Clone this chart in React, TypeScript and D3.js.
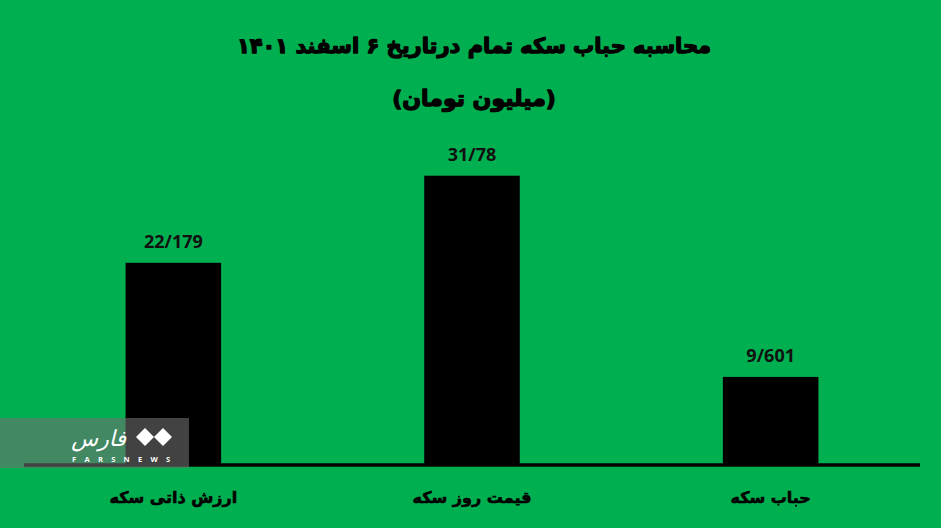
import React from "react";
import * as d3 from "d3";

const categories = ["ارزش ذاتی سکه", "قیمت روز سکه", "حباب سکه"];
const values = [22.179, 31.78, 9.601];
const valueLabels = ["22/179", "31/78", "9/601"];
const titleLines = ["محاسبه حباب سکه تمام درتاریخ ۶ اسفند ۱۴۰۱", "(میلیون تومان)"];

const W = 941;
const H = 528;
const GREEN = "#00B050";
const FA = "'DejaVu Sans', sans-serif";
const NUM = "'Open Sans', 'DejaVu Sans', sans-serif";

export default function App() {
  const x = d3.scaleBand<string>().domain(categories).range([24, 920]).paddingInner(0.68).paddingOuter(0.34);
  const y = d3.scaleLinear().domain([0, 35]).range([464, 146.5]);

  return (
    <svg width={W} height={H} style={{ position: "absolute", left: 0, top: 0 }}>
      <rect x={0} y={0} width={W} height={H} fill={GREEN} />
      {titleLines.map((t, i) => (
        <text key={i} x={474} y={i === 0 ? 53 : 106} textAnchor="middle" direction="rtl"
          fontFamily={FA} fontWeight="bold" fontSize={i === 0 ? 21 : 22} fill="#000"
          stroke="#000" strokeWidth={1.3} strokeLinejoin="round">{t}</text>
      ))}
      {categories.map((c, i) => {
        const bx = x(c)!;
        const bw = x.bandwidth();
        return (
          <g key={c}>
            <rect x={bx} y={y(values[i])} width={bw} height={y(0) - y(values[i])} fill="#000" />
            <text x={bx + bw / 2} y={y(values[i]) - 15} textAnchor="middle" fontFamily={NUM}
              fontWeight="bold" fontSize={18} fill="#111">{valueLabels[i]}</text>
            <text x={bx + bw / 2} y={503} textAnchor="middle" direction="rtl" fontFamily={FA}
              fontWeight="bold" fontSize={16} fill="#000" stroke="#000" strokeWidth={0.6}>{c}</text>
          </g>
        );
      })}
      <line x1={24} x2={920} y1={y(0) + 1} y2={y(0) + 1} stroke="#000" strokeWidth={3.5} />
      {/* watermark */}
      <g>
        <rect x={0} y={418} width={189} height={50} fill="#6e6e6e" opacity={0.6} />
        <text x={126} y={446} textAnchor="end" fontFamily={FA} fontSize={22} fill="#fff" fontStyle="italic">فارس</text>
        <g fill="#fff">
          <path d="M 136 437 l 9 -9 l 9 9 l -9 9 z" />
          <path d="M 154 437 l 9 -9 l 9 9 l -9 9 z" />
        </g>
        <text x={72} y={462} fontFamily={NUM} fontWeight="bold" fontSize={7.5} fill="#fff" letterSpacing={8.3}>FARSNEWS</text>
      </g>
    </svg>
  );
}
